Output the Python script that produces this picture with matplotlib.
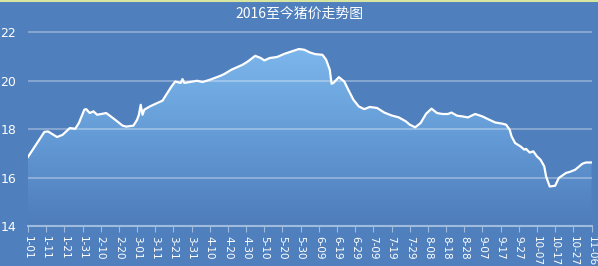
import numpy as np
import matplotlib
matplotlib.use('Agg')
import matplotlib.pyplot as plt
from matplotlib.colors import LinearSegmentedColormap

plt.rcParams['font.family'] = ['Noto Sans CJK SC', 'DejaVu Sans']

# data: day offset from 2016-01-01 and pig price
days = [0, 9, 11, 16, 19, 23, 26, 28, 31, 32,
        34, 36, 38, 41, 43, 45, 48, 52, 54, 58,
        60, 61, 62, 63, 64, 67, 71, 74, 76, 79,
        81, 84, 85, 86, 89, 93, 96, 100, 106, 108,
        112, 118, 121, 125, 128, 130, 133, 137, 141, 145,
        149, 152, 155, 158, 162, 164, 166, 167, 168, 171,
        174, 176, 179, 182, 185, 188, 192, 196, 200, 204,
        208, 210, 213, 216, 219, 222, 225, 228, 231, 233,
        236, 239, 242, 246, 250, 253, 257, 261, 263, 265,
        266, 268, 271, 273, 274, 276, 278, 280, 282, 284,
        285, 287, 290, 292, 296, 298, 301, 305, 307, 310]
prices = [16.85, 17.88, 17.9, 17.67, 17.76, 18.04, 18.01, 18.25, 18.8, 18.82,
          18.66, 18.73, 18.59, 18.63, 18.66, 18.55, 18.38, 18.14, 18.1, 18.14,
          18.38, 18.59, 19.0, 18.59, 18.8, 18.93, 19.07, 19.17, 19.41, 19.76,
          19.96, 19.9, 20.06, 19.9, 19.94, 19.99, 19.94, 20.03, 20.2, 20.27,
          20.45, 20.65, 20.79, 21.02, 20.93, 20.83, 20.93, 20.97, 21.1, 21.2,
          21.3, 21.27, 21.16, 21.09, 21.06, 20.86, 20.45, 19.87, 19.9, 20.14,
          19.96, 19.65, 19.21, 18.93, 18.82, 18.91, 18.87, 18.68, 18.56, 18.48,
          18.31, 18.18, 18.07, 18.25, 18.63, 18.84, 18.66, 18.62, 18.62, 18.68,
          18.55, 18.52, 18.48, 18.62, 18.52, 18.41, 18.27, 18.22, 18.18, 17.97,
          17.7, 17.42, 17.28, 17.15, 17.18, 17.03, 17.08, 16.87, 16.73, 16.46,
          16.05, 15.63, 15.66, 15.98, 16.19, 16.23, 16.32, 16.57, 16.62, 16.62]
tick_days = list(range(0, 311, 10))
tick_labels = ['1-01', '1-11', '1-21', '1-31', '2-10', '2-20', '3-01', '3-11',
               '3-21', '3-31', '4-10', '4-20', '4-30', '5-10', '5-20', '5-30',
               '6-09', '6-19', '6-29', '7-09', '7-19', '7-29', '8-08', '8-18',
               '8-28', '9-07', '9-17', '9-27', '10-07', '10-17', '10-27', '11-06']
y_ticks = [14, 16, 18, 20, 22]

bg = '#4f7fbd'
fig = plt.figure(figsize=(5.98, 2.66), dpi=100, facecolor=bg)
ax = fig.add_axes([28/598, 1-226/266, (591.5-28)/598, (226-27.2)/266])
ax.set_facecolor(bg)

# gradient area under the line
poly = ax.fill_between(days, prices, 14, color='none', lw=0)
cmap = LinearSegmentedColormap.from_list('g', ['#4e7cba', '#649bd6', '#7db7ec'])
grad = np.linspace(0, 1, 256).reshape(-1, 1)
im = ax.imshow(grad, extent=[0, 310, 14, 21.4], origin='lower', aspect='auto',
               cmap=cmap, zorder=0)
im.set_clip_path(poly.get_paths()[0], transform=ax.transData)

ax.plot(days, prices, color='white', lw=1.6, zorder=3)

ax.set_xlim(0, 310)
ax.set_ylim(14, 22.2)
ax.set_yticks(y_ticks)
ax.set_xticks(tick_days)
ax.set_xticklabels(tick_labels, rotation=270, fontsize=7.5, color='white',
                   family='DejaVu Sans')
ax.tick_params(axis='x', length=4, color='#9fbbe0', pad=3)
ax.tick_params(axis='y', length=0, pad=8.5, labelsize=9, labelcolor='white')
for lab in ax.get_yticklabels():
    lab.set_family('DejaVu Sans')

ax.grid(axis='y', color='white', alpha=0.3, lw=1.5)
ax.set_axisbelow(True)
for s in ['top', 'left', 'right']:
    ax.spines[s].set_visible(False)
ax.spines['bottom'].set_color('#9fbbe0')
ax.spines['bottom'].set_linewidth(1.5)

fig.text(0.5, 1-14/266, '2016至今猪价走势图', ha='center', va='center',
         color='white', fontsize=10)
fig.add_artist(plt.Line2D([0, 1], [0.998, 0.998], color='#d6e6a0', lw=1.5,
                          transform=fig.transFigure))

fig.savefig('out.png', dpi=100, facecolor=bg)
